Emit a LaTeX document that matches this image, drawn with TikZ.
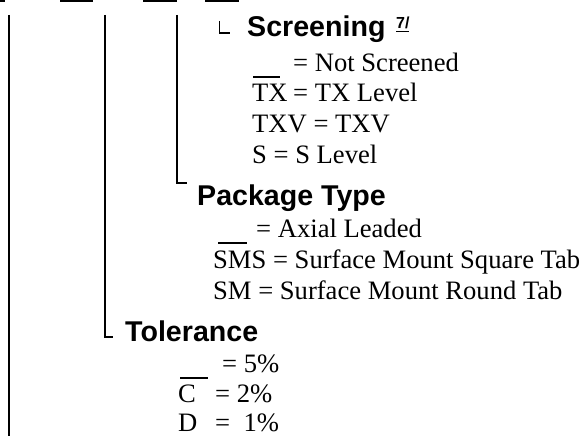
\documentclass[tikz,border=0pt]{standalone}
\usepackage{fontspec}
\setmainfont{Liberation Serif}
\newfontfamily\headfont{Liberation Sans}
\begin{document}
\begin{tikzpicture}[x=1pt,y=-1pt,
  txt/.style={anchor=base west,inner sep=0pt,font=\fontsize{26.6}{30}\selectfont},
  head/.style={anchor=base west,inner sep=0pt,font=\headfont\fontsize{28.6}{30}\selectfont\bfseries},
  sup/.style={anchor=base west,inner sep=0pt,font=\headfont\fontsize{16}{17}\selectfont\bfseries},
  brk/.style={line width=1.6pt},
  bar/.style={line width=1.5pt},
  topbar/.style={fill=black,draw=none}]
\useasboundingbox (0,0) rectangle (584,436);
% top bars
\fill[topbar] (0,0) rectangle (5,2.2);
\fill[topbar] (60,0) rectangle (93,2.2);
\fill[topbar] (143,0) rectangle (177,2.2);
\fill[topbar] (205,0) rectangle (239,2.2);
% bracket coordinates
\coordinate (t1) at (9,15);
\coordinate (b1) at (9,436);
\coordinate (t2) at (105,15);
\coordinate (c2) at (105,337);
\coordinate (e2) at (113,337);
\coordinate (t3) at (177,15);
\coordinate (c3) at (177,183);
\coordinate (e3) at (187,183);
\coordinate (lt) at (219.5,21);
\coordinate (lc) at (219.5,33);
\coordinate (le) at (230,33);
\draw[brk] (t1) -- (b1);
\draw[brk] (t2) -- (c2) -- (e2);
\draw[brk] (t3) -- (c3) -- (e3);
\draw[line width=1.3pt] (lt) -- (lc) -- (le);
% Screening
\node[head] (scr) at (247,37) {Screening};
\node[sup] (fn) at (396,28.5) {7/};
\draw[line width=1pt] (fn.south west) ++(0,2) -- ++(13,0);
\node[txt] (s1) at (293,72) {= Not Screened};
\draw[bar] (253,77) -- (280,77);
\node[txt] (s2a) at (252,102) {TX};
\node[txt] (s2b) at (293,102) {= TX Level};
\node[txt] (s3) at (252,132) {TXV = TXV};
\node[txt] (s4) at (252,163) {S = S Level};
% Package Type
\node[head] (pkg) at (197,205) {Package Type};
\draw[bar] (218,243) -- (247,243);
\node[txt] (p1) at (256,237) {= Axial Leaded};
\node[txt] (p2) at (213,268) {SMS = Surface Mount Square Tab};
\node[txt] (p3) at (213,299) {SM = Surface Mount Round Tab};
% Tolerance
\node[head] (tol) at (125,341) {Tolerance};
\draw[bar] (180,378) -- (208,378);
\node[txt] (t1a) at (222,372) {= 5\%};
\node[txt] (t2a) at (178,402) {C};
\node[txt] (t2b) at (215,402) {= 2\%};
\node[txt] (t3a) at (178,431) {D};
\node[txt] (t3b) at (215,431) {= \ 1\%};
\end{tikzpicture}
\end{document}
